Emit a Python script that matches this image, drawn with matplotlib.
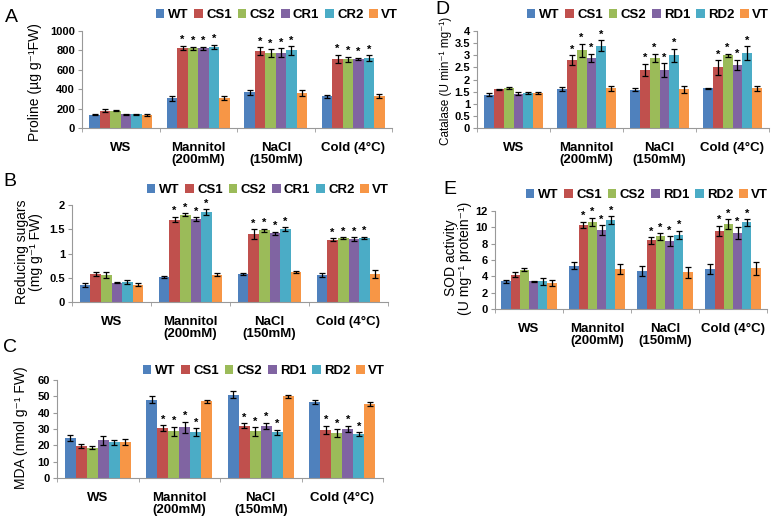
import matplotlib
matplotlib.use("Agg")
import matplotlib.pyplot as plt
import numpy as np

plt.rcParams['font.family'] = ['Liberation Sans', 'DejaVu Sans']

groups = ['WS', 'Mannitol\n(200mM)', 'NaCl\n(150mM)', 'Cold (4°C)']
colors = ['#4F81BD', '#C0504D', '#9BBB59', '#8064A2', '#4BACC6', '#F79646']

# A - proline
lines_a = ['WT', 'CS1', 'CS2', 'CR1', 'CR2', 'VT']
prol = [[135, 305, 370, 325],
        [180, 825, 790, 715],
        [180, 820, 770, 710],
        [140, 820, 775, 715],
        [140, 835, 800, 720],
        [135, 305, 365, 330]]
prol_err = [[5, 30, 25, 20],
            [20, 25, 40, 40],
            [8, 20, 40, 25],
            [5, 20, 45, 10],
            [5, 25, 45, 30],
            [10, 20, 30, 25]]

# B - reducing sugars
sug = [[0.35, 0.51, 0.57, 0.55],
       [0.58, 1.70, 1.40, 1.28],
       [0.55, 1.80, 1.48, 1.31],
       [0.40, 1.71, 1.42, 1.30],
       [0.41, 1.85, 1.50, 1.32],
       [0.36, 0.56, 0.61, 0.58]]
sug_err = [[0.04, 0.02, 0.02, 0.04],
           [0.04, 0.06, 0.10, 0.03],
           [0.06, 0.03, 0.03, 0.02],
           [0.01, 0.04, 0.03, 0.04],
           [0.04, 0.06, 0.04, 0.03],
           [0.04, 0.03, 0.02, 0.09]]

# C - MDA
lines_c = ['WT', 'CS1', 'CS2', 'RD1', 'RD2', 'VT']
mda = [[24.5, 48, 51, 46.5],
       [19.5, 30.5, 32, 29.5],
       [18.5, 28.5, 28.5, 27.5],
       [23, 31, 32, 30],
       [22, 28, 28, 27],
       [22, 47, 50, 45.5]]
mda_err = [[2, 2, 2, 1.2],
           [1.2, 2, 1.5, 2.5],
           [1, 3, 2.5, 2.5],
           [2.5, 3.5, 1.8, 2],
           [1.5, 2.5, 1.5, 1],
           [1.8, 1, 0.8, 1.2]]

# D - catalase
cat = [[1.38, 1.62, 1.58, 1.63],
       [1.60, 2.80, 2.40, 2.50],
       [1.65, 3.20, 2.90, 3.00],
       [1.42, 2.90, 2.40, 2.60],
       [1.44, 3.40, 3.00, 3.10],
       [1.46, 1.63, 1.60, 1.63]]
cat_err = [[0.05, 0.08, 0.07, 0.02],
           [0.02, 0.20, 0.25, 0.30],
           [0.04, 0.28, 0.17, 0.07],
           [0.05, 0.16, 0.28, 0.22],
           [0.05, 0.22, 0.27, 0.28],
           [0.04, 0.12, 0.14, 0.12]]

# E - SOD
sod = [[3.4, 5.3, 4.7, 4.9],
       [4.2, 10.3, 8.4, 9.6],
       [4.8, 10.7, 8.9, 10.4],
       [3.4, 9.7, 8.3, 9.3],
       [3.4, 10.9, 9.1, 10.6],
       [3.2, 4.9, 4.5, 5.0]]
sod_err = [[0.2, 0.4, 0.6, 0.6],
           [0.3, 0.4, 0.4, 0.6],
           [0.2, 0.5, 0.4, 0.6],
           [0.05, 0.6, 0.6, 0.7],
           [0.4, 0.5, 0.5, 0.4],
           [0.4, 0.6, 0.7, 0.8]]

W, H = 776, 518
fig = plt.figure(figsize=(W / 100, H / 100), dpi=100)


def px_axes(left, right, top, bottom):
    return fig.add_axes([left / W, 1 - bottom / H, (right - left) / W, (bottom - top) / H])


def panel(ax, data, err, names, ymax, yticks, ylabel, letter, letter_xy, leg_xy, label_xy,
          label_size=10):
    bw = 0.135
    x = np.arange(4) + 0.5
    for j in range(6):
        pos = x + (j - 2.5) * bw
        ax.bar(pos, data[j], bw, color=colors[j], label=names[j], zorder=2)
        ax.errorbar(pos, data[j], yerr=err[j], fmt='none', ecolor='black',
                    elinewidth=0.9, capsize=2, capthick=0.9, zorder=3)
        if 1 <= j <= 4:
            for k in range(1, 4):
                ax.text(pos[k], data[j][k] + err[j][k] + ymax * 0.005, '*',
                        ha='center', va='bottom', fontsize=8, fontweight='bold')
    ax.set_xlim(0, 4)
    ax.set_ylim(0, ymax)
    ax.set_yticks(yticks)
    ax.set_yticklabels([('%g' % t) for t in yticks], fontsize=8, fontweight='bold')
    ax.set_xticks(x)
    ax.set_xticklabels(groups, fontsize=9.5, fontweight='bold', linespacing=1.05)
    ax.set_xticks([0, 1, 2, 3, 4], minor=True)
    ax.tick_params(axis='x', which='major', length=0, pad=10)
    ax.tick_params(axis='x', which='minor', length=3, color='#999999')
    ax.tick_params(axis='y', length=3, color='#999999', pad=2)
    for s in ['top', 'right']:
        ax.spines[s].set_visible(False)
    for s in ['left', 'bottom']:
        ax.spines[s].set_color('#999999')
        ax.spines[s].set_linewidth(0.8)
    fig.text(label_xy[0] / W, 1 - label_xy[1] / H, ylabel, rotation=90,
             ha='center', va='center', fontsize=label_size, linespacing=1.0)
    fig.text(letter_xy[0] / W, 1 - letter_xy[1] / H, letter, fontsize=14,
             ha='left', va='center')
    ax.legend(loc='center', bbox_to_anchor=(leg_xy[0] / W, 1 - leg_xy[1] / H),
              bbox_transform=fig.transFigure, ncol=6, frameon=False,
              prop={'weight': 'bold', 'size': 9.5}, handlelength=0.65,
              handleheight=0.65, handletextpad=0.25, columnspacing=0.45,
              borderpad=0)


axA = px_axes(82, 392, 31, 128)
panel(axA, prol, prol_err, lines_a, 1000, [0, 200, 400, 600, 800, 1000],
      'Proline (µg g⁻¹FW)', 'A', (5, 17), (277, 15), (35, 82))

axB = px_axes(72, 388, 205, 302)
panel(axB, sug, sug_err, lines_a, 2, [0, 0.5, 1, 1.5, 2],
      'Reducing sugars\n(mg g⁻¹ FW)', 'B', (3, 181), (268, 190), (29, 252))

axC = px_axes(57, 383, 380, 478)
panel(axC, mda, mda_err, lines_c, 60, [0, 10, 20, 30, 40, 50, 60],
      'MDA (nmol g⁻¹ FW)', 'C', (3, 348), (264, 371), (21, 428))

axD = px_axes(477, 769, 31, 128)
panel(axD, cat, cat_err, lines_c, 4, [0, 0.5, 1, 1.5, 2, 2.5, 3, 3.5, 4],
      'Catalase (U min⁻¹ mg⁻¹)', 'D', (435, 10), (648, 15), (446, 81), label_size=8.5)

axE = px_axes(495, 767, 211, 309)
panel(axE, sod, sod_err, lines_c, 12, [0, 2, 4, 6, 8, 10, 12],
      'SOD activity\n(U mg⁻¹ protein⁻¹)', 'E', (443, 189), (647, 195), (458, 258))

fig.savefig('out.png', dpi=100)
